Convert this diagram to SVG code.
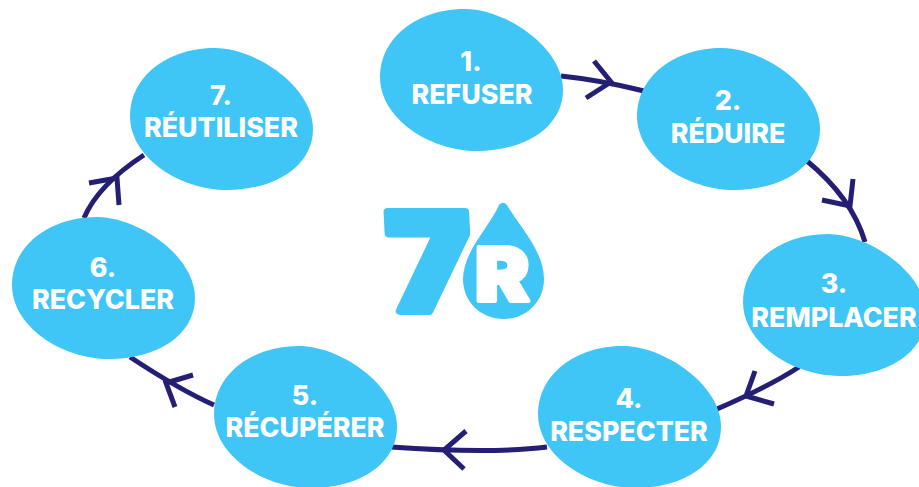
<svg xmlns="http://www.w3.org/2000/svg" width="919" height="487" viewBox="0 0 919 487">
<style>
.blob{fill:#40c6f6}
.t{font-family:"Inter","Roboto",sans-serif;font-weight:800;font-size:26.8px;fill:#fff;text-anchor:middle}
.c{fill:none;stroke:#241f75;stroke-width:5}
.logo{font-family:"Inter","Roboto",sans-serif;font-weight:900}
</style>
<defs>
<path id="b" d="M0,68C0,28 38,0 85,0C125,0 183,38 183,81C183,118 145,142 97,142C50,142 0,110 0,68Z"/>
</defs>
<rect width="919" height="487" fill="#fff"/>
<g id="connectors">
<path class="c" d="M561,76Q600,80 644,91"/><path class="c" d="M594,61L611,82L586,98"/>
<path class="c" d="M807,161Q852,198 865,242"/><path class="c" d="M853,179L850,206L822,200"/>
<path class="c" d="M799,367Q770,386 717,409"/><path class="c" d="M755,371L746,396L774,404"/>
<path class="c" d="M547,447Q490,454 391,447"/><path class="c" d="M466,431L444,450L464,469"/>
<path class="c" d="M214,405Q180,390 130,357"/><path class="c" d="M193,375L166,383L175,407"/>
<path class="c" d="M84,218Q98,185 144,155"/><path class="c" d="M89,183L117,178L119,205"/>
</g>
<g id="node1"><use href="#b" class="blob" x="380" y="9"/><text class="t" x="471" y="71">1.</text><text class="t" x="472" y="104">REFUSER</text></g>
<g id="node2"><use href="#b" class="blob" x="637" y="48"/><text class="t" x="728" y="110">2.</text><text class="t" x="728" y="143">RÉDUIRE</text></g>
<g id="node3"><use href="#b" class="blob" x="743" y="234"/><text class="t" x="834" y="293">3.</text><text class="t" x="834" y="327">REMPLACER</text></g>
<g id="node4"><use href="#b" class="blob" x="538" y="346"/><text class="t" x="629" y="408">4.</text><text class="t" x="629" y="441">RESPECTER</text></g>
<g id="node5"><use href="#b" class="blob" x="214" y="346"/><text class="t" x="305" y="405">5.</text><text class="t" x="305" y="437">RÉCUPÉRER</text></g>
<g id="node6"><use href="#b" class="blob" x="12" y="217"/><text class="t" x="103" y="277">6.</text><text class="t" x="103" y="309">RECYCLER</text></g>
<g id="node7"><use href="#b" class="blob" x="130" y="48"/><text class="t" x="221" y="105">7.</text><text class="t" x="221" y="137">RÉUTILISER</text></g>
<g id="logo">
<text class="logo" transform="translate(389 311) skewX(3) scale(1.05 1)" font-size="136" fill="#40c6f6" stroke="#40c6f6" stroke-width="8" stroke-linejoin="round">7</text>
<path class="blob" d="M499,205C502,202 504,202 507,205C516,222 544,250 544,279C544,302 526,319 504,319C481,319 463,302 463,279C463,252 490,226 499,205Z"/>
<text class="logo" transform="translate(475 301) scale(1.1 1)" font-size="74" fill="#fff" stroke="#fff" stroke-width="4" stroke-linejoin="round">R</text>
</g>
</svg>
